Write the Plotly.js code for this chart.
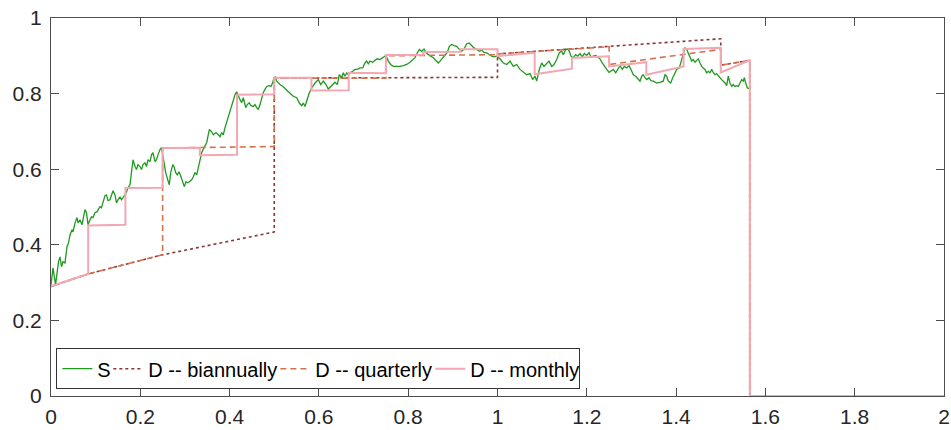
<!DOCTYPE html>
<html>
<head>
<meta charset="utf-8">
<script src="https://cdn.plot.ly/plotly-3.0.1.min.js"></script>
<style>
html,body{margin:0;padding:0;background:#fff;}
#chart{width:951px;height:430px;}
</style>
</head>
<body>
<div id="chart"></div>
<script>
// ---- S (green path), split into segments ----
const S_tA = [0,0.0045,0.0101,0.0134,0.0168,0.0202,0.0235,0.0269,0.0314,0.0358,0.0392,0.0426,0.0470,0.0493,0.0538,0.0582,0.0605,0.0649,0.0694,0.0728,0.0761,0.0795,0.0829,0.0873,0.0907,0.0941,0.0985,0.1030,0.1064,0.1097,0.1131,0.1165,0.1209,0.1243,0.1277,0.1321,0.1355,0.1389,0.1433,0.1467,0.1501,0.1545,0.1579,0.1613,0.1657,0.1691,0.1725,0.1769,0.1803,0.1837,0.1881,0.1915,0.1948,0.1993,0.2027,0.2060,0.2105,0.2139,0.2172,0.2217,0.2251,0.2284,0.2329,0.2363,0.2396,0.2441,0.2475];
const S_vA = [0.294,0.339,0.294,0.321,0.355,0.368,0.342,0.355,0.352,0.395,0.405,0.426,0.440,0.434,0.458,0.472,0.458,0.466,0.453,0.474,0.493,0.485,0.453,0.466,0.474,0.472,0.485,0.487,0.493,0.501,0.498,0.511,0.530,0.532,0.517,0.519,0.532,0.543,0.532,0.511,0.519,0.527,0.519,0.524,0.532,0.540,0.551,0.559,0.591,0.625,0.607,0.599,0.612,0.607,0.599,0.612,0.617,0.607,0.625,0.620,0.638,0.644,0.620,0.625,0.638,0.652,0.657];
const S_tB = [0.2508,0.2569,0.2614,0.2649,0.2681,0.2726,0.2755,0.2793,0.2829,0.2867,0.2912,0.2950,0.2985,0.3023,0.3062,0.3097,0.3151,0.3187,0.3225,0.3263,0.3299,0.3337,0.3375,0.3427,0.3487,0.3545,0.3599,0.3635,0.3695,0.3747,0.3785,0.3823,0.3859,0.3897,0.3948,0.3993,0.4047,0.4083,0.4121,0.4159,0.4195,0.4233,0.4271,0.4307,0.4361,0.4396,0.4441,0.4479,0.4531,0.4569,0.4607,0.4643,0.4681,0.4719,0.4755,0.4793,0.4831,0.4882,0.4927,0.4965,0.4994,0.5023];
const S_vB = [0.633,0.591,0.572,0.559,0.591,0.612,0.607,0.591,0.585,0.593,0.580,0.567,0.554,0.567,0.564,0.567,0.572,0.580,0.591,0.585,0.604,0.625,0.644,0.657,0.670,0.705,0.699,0.691,0.697,0.691,0.686,0.697,0.691,0.710,0.731,0.744,0.771,0.784,0.797,0.805,0.792,0.784,0.776,0.789,0.763,0.771,0.776,0.768,0.766,0.771,0.763,0.758,0.771,0.792,0.803,0.811,0.819,0.821,0.819,0.829,0.842,0.844];
const S_tC = [0.5055,0.5129,0.5203,0.5279,0.5353,0.5427,0.5503,0.5561,0.5615,0.5651,0.5689,0.5727,0.5785,0.5839,0.5913,0.5987,0.6040,0.6099,0.6159,0.6210,0.6287,0.6361,0.6412,0.6457,0.6511,0.6546,0.6584,0.6623,0.6658,0.6696,0.6757,0.6808,0.6860,0.6920,0.6981,0.7032,0.7071,0.7106,0.7144,0.7205,0.7256,0.7308,0.7368,0.7429,0.7480,0.7503];
const S_vC = [0.833,0.824,0.818,0.809,0.802,0.793,0.789,0.775,0.768,0.775,0.766,0.780,0.802,0.815,0.828,0.837,0.824,0.833,0.824,0.812,0.821,0.830,0.824,0.850,0.842,0.855,0.846,0.855,0.850,0.855,0.859,0.864,0.864,0.868,0.868,0.881,0.886,0.879,0.886,0.883,0.888,0.892,0.890,0.895,0.899,0.901];
const S_tD = [0.7554,0.7608,0.7666,0.7742,0.7816,0.7890,0.7966,0.8040,0.8101,0.8152,0.8204,0.8249,0.8302,0.8354,0.8399,0.8450,0.8504,0.8562,0.8623,0.8674,0.8712,0.8773,0.8824,0.8876,0.8920,0.8974,0.9026,0.9086,0.9144,0.9198,0.9250,0.9310,0.9368,0.9422,0.9473,0.9534,0.9592,0.9646,0.9698,0.9758,0.9816,0.9870,0.9921,0.9982];
const S_vD = [0.886,0.877,0.872,0.871,0.872,0.874,0.877,0.883,0.890,0.895,0.908,0.917,0.912,0.918,0.908,0.903,0.899,0.895,0.888,0.881,0.886,0.895,0.903,0.909,0.925,0.930,0.927,0.925,0.917,0.912,0.917,0.932,0.934,0.927,0.921,0.917,0.912,0.915,0.909,0.908,0.903,0.899,0.897,0.899];
const S_tE = [1.0055,1.0130,1.0206,1.0280,1.0354,1.0430,1.0504,1.0578,1.0654,1.0728,1.0788,1.0840,1.0878,1.0936,1.0990,1.1041,1.1102,1.1153,1.1214,1.1265,1.1326,1.1384,1.1438,1.1474,1.1528,1.1572,1.1608,1.1646,1.1698,1.1751,1.1796,1.1848,1.1899,1.1944,1.1998,1.2049,1.2094,1.2146,1.2199,1.2244,1.2296,1.2347,1.2392,1.2446,1.2497];
const S_vE = [0.892,0.881,0.877,0.886,0.872,0.877,0.864,0.856,0.850,0.853,0.837,0.846,0.833,0.864,0.881,0.872,0.881,0.886,0.872,0.877,0.890,0.908,0.912,0.903,0.917,0.918,0.912,0.899,0.895,0.903,0.899,0.906,0.897,0.906,0.901,0.908,0.897,0.899,0.901,0.897,0.892,0.881,0.872,0.864,0.856];
const S_tF = [1.2542,1.2593,1.2647,1.2692,1.2743,1.2795,1.2840,1.2893,1.2945,1.2990,1.3041,1.3095,1.3140,1.3191,1.3230,1.3265,1.3303,1.3342,1.3393,1.3438,1.3489,1.3565,1.3639,1.3713,1.3751,1.3789,1.3825,1.3879,1.3924,1.3975,1.4013,1.4072,1.4125,1.4161,1.4199,1.4237,1.4273,1.4311,1.4349,1.4385,1.4423,1.4461,1.4497,1.4535,1.4573,1.4609,1.4647,1.4685,1.4721,1.4759,1.4797,1.4833,1.4871,1.4909,1.4945,1.4983];
const S_vF = [0.859,0.864,0.855,0.864,0.874,0.864,0.872,0.868,0.874,0.864,0.850,0.846,0.839,0.833,0.846,0.850,0.842,0.837,0.842,0.834,0.833,0.828,0.830,0.833,0.850,0.846,0.833,0.828,0.842,0.855,0.864,0.868,0.890,0.912,0.921,0.917,0.908,0.895,0.886,0.890,0.883,0.888,0.892,0.881,0.872,0.868,0.864,0.855,0.859,0.855,0.864,0.856,0.850,0.853,0.846,0.842];
const S_tG = [1.5021,1.5057,1.5095,1.5133,1.5169,1.5207,1.5245,1.5281,1.5319,1.5357,1.5393,1.5431,1.5469,1.5505,1.5527,1.5559,1.5595,1.5640];
const S_vG = [0.837,0.833,0.828,0.821,0.846,0.828,0.819,0.824,0.819,0.821,0.819,0.828,0.837,0.833,0.842,0.828,0.815,0.813];

// ---- D -- biannually ----
const bi_t = [0,0.0833,0.25,0.5,0.5,1,1,1.5,1.5,1.565,1.565,2];
const bi_v = [0.290,0.323,0.3735,0.434,0.841,0.843,0.905,0.945,0.875,0.888,0,0];
// ---- D -- quarterly ----
const qu_t = [0,0.0833,0.25,0.25,0.5,0.5,0.75,0.75,1,1,1.25,1.25,1.5,1.5,1.565,1.565,2];
const qu_v = [0.290,0.323,0.3735,0.656,0.660,0.841,0.841,0.900,0.903,0.905,0.924,0.877,0.917,0.875,0.888,0,0];
// ---- D -- monthly ----
const mo_t = [0,0.0833,0.0833,0.1667,0.1667,0.25,0.25,0.3333,0.3333,0.4167,0.4167,0.5,0.5,0.5833,0.5833,0.6667,0.6667,0.75,0.75,0.8333,0.8333,0.9167,0.9167,1,1,1.0833,1.0833,1.1667,1.1667,1.25,1.25,1.3333,1.3333,1.4167,1.4167,1.5,1.5,1.565,1.565,2];
const mo_v = [0.290,0.323,0.451,0.453,0.550,0.551,0.656,0.657,0.637,0.638,0.797,0.798,0.842,0.842,0.808,0.809,0.855,0.854,0.902,0.903,0.910,0.911,0.917,0.917,0.899,0.908,0.851,0.866,0.894,0.899,0.872,0.883,0.850,0.872,0.918,0.921,0.856,0.888,0,0];

const legendNames = ['S','D -- biannually','D -- quarterly','D -- monthly'];

const S_t = [].concat(S_tA,S_tB,S_tC,S_tD,S_tE,S_tF,S_tG);
const S_v = [].concat(S_vA,S_vB,S_vC,S_vD,S_vE,S_vF,S_vG);

const traces = [
  {x:S_t, y:S_v, name:legendNames[0], mode:'lines', legendwidth:6,
   line:{color:'#1f9a1f', width:1.3}},
  {x:bi_t, y:bi_v, name:legendNames[1], mode:'lines', legendwidth:122,
   line:{color:'#8a3535', width:1.6, dash:'dot'}},
  {x:qu_t, y:qu_v, name:legendNames[2], mode:'lines', legendwidth:110,
   line:{color:'#d6714f', width:1.6, dash:'6px,4px'}},
  {x:mo_t, y:mo_v, name:legendNames[3], mode:'lines', legendwidth:104,
   line:{color:'#f3a7b2', width:2}}
];

const axisCommon = {
  showgrid:false, zeroline:false, showline:true, mirror:'ticks',
  linecolor:'#4d4d4d', linewidth:1, ticks:'inside', ticklen:8, tickwidth:1,
  tickcolor:'#4d4d4d', tickfont:{family:'Liberation Sans, Arial, sans-serif', size:21, color:'#262626'},
  dtick:0.2, tick0:0
};

const layout = {
  width:951, height:430,
  margin:{l:51, r:7, t:18, b:34},
  paper_bgcolor:'#fff', plot_bgcolor:'#fff',
  xaxis:Object.assign({}, axisCommon, {range:[0,2], ticklabelstandoff:2}),
  yaxis:Object.assign({}, axisCommon, {range:[0,1], ticklabelstandoff:4}),
  showlegend:true,
  legend:{orientation:'h', x:0.006, y:0.018, xanchor:'left', yanchor:'bottom',
    bgcolor:'#fff', bordercolor:'#333', borderwidth:1,
    font:{family:'Liberation Sans, Arial, sans-serif', size:20, color:'#000'},
    itemwidth:30, tracegroupgap:0}
};

Plotly.newPlot('chart', traces, layout, {displayModeBar:false, staticPlot:true});
</script>
</body>
</html>
